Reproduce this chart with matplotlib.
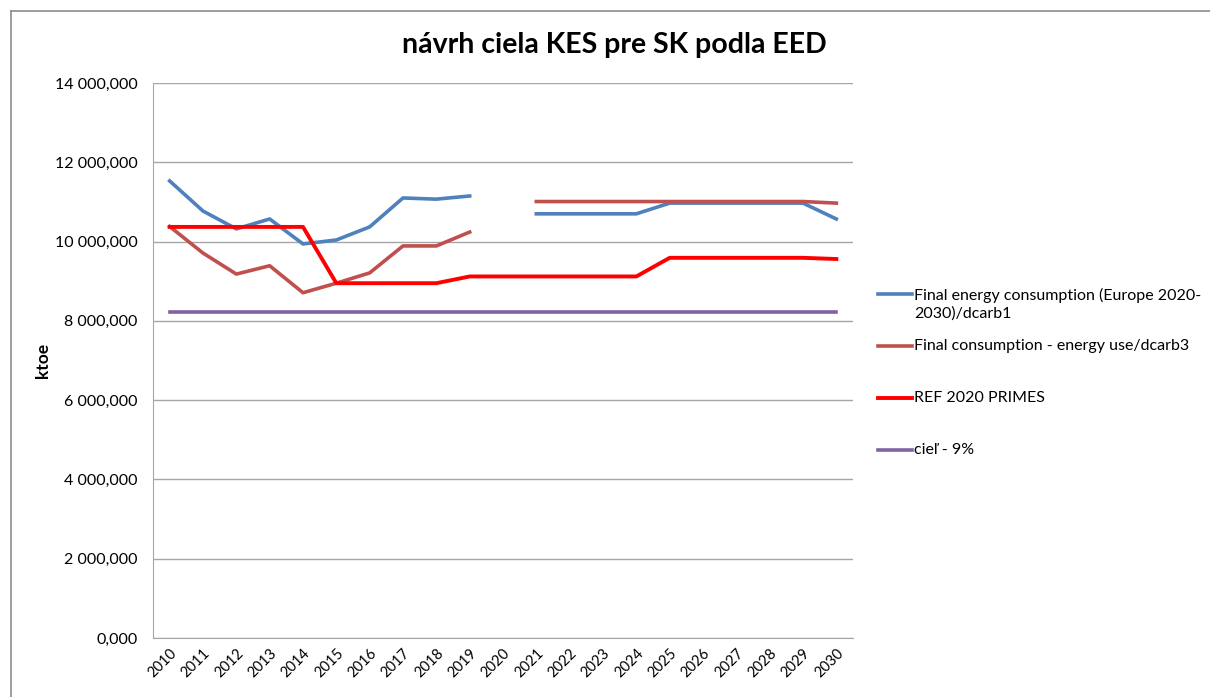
import numpy as np
import matplotlib
matplotlib.use("Agg")
import matplotlib.pyplot as plt
from matplotlib.lines import Line2D
from matplotlib.ticker import FuncFormatter

plt.rcParams['font.family'] = ['Lato', 'DejaVu Sans']

years = [str(y) for y in range(2010, 2031)]
nan = np.nan
blue_fec = [11530, 10770, 10320, 10570, 9940, 10040, 10370, 11100, 11070, 11150,
            nan, 10700, 10700, 10700, 10700, 10970, 10970, 10970, 10970, 10970, 10570]
dcarb3 = [10380, 9710, 9180, 9390, 8710, 8950, 9210, 9890, 9890, 10240,
          nan, 11010, 11010, 11010, 11010, 11010, 11010, 11010, 11010, 11010, 10970]
ref2020 = [10370, 10370, 10370, 10370, 10370, 8950, 8950, 8950, 8950, 9120,
           9120, 9120, 9120, 9120, 9120, 9590, 9590, 9590, 9590, 9590, 9560]
ciel = [8220] * 21

labels = ["Final energy consumption (Europe 2020-\n2030)/dcarb1",
          "Final consumption - energy use/dcarb3",
          "REF 2020 PRIMES",
          "cieľ - 9%"]
colors = ["#4F81BD", "#C0504D", "#FF0000", "#8064A2"]
widths = [2.6, 2.6, 2.8, 2.6]
yticks = [0, 2000, 4000, 6000, 8000, 10000, 12000, 14000]

W, H = 1210, 697
fig = plt.figure(figsize=(W / 100, H / 100), dpi=100)
ax = fig.add_axes([153/W, 1 - 638/H, 700/W, 555/H])

x = np.arange(len(years))
series = [blue_fec, dcarb3, ref2020, ciel]
for s, c, w, lab in zip(series, colors, widths, labels):
    ax.plot(x, s, color=c, lw=w, solid_joinstyle='round', label=lab)

ax.set_xlim(-0.5, len(years) - 0.5)
ax.set_ylim(0, 14000)
ax.set_yticks(yticks)
ax.yaxis.set_major_formatter(FuncFormatter(lambda v, p: f"{int(v):,}".replace(",", " ") + ",000"))
ax.set_xticks(x)
ax.set_xticklabels(years, rotation=45, ha='right', rotation_mode='anchor', fontsize=10.5)
ax.tick_params(axis='y', length=0, labelsize=11.5, pad=11)
ax.tick_params(axis='x', length=0, pad=6)
ax.grid(axis='y', color='#A6A6A6', lw=1)
ax.set_axisbelow(True)
for sp in ['top', 'right']:
    ax.spines[sp].set_visible(False)
ax.spines['left'].set_color('#A6A6A6')
ax.spines['bottom'].set_color('#A6A6A6')
ax.set_ylabel("ktoe", fontweight='bold', fontsize=12.5)
ax.yaxis.set_label_coords(-(153 - 51) / 700, 0.5)

fig.text(614 / W, 1 - 45 / H, "návrh ciela KES pre SK podla EED",
         ha='center', va='center', fontsize=20.5, fontweight='bold')

# legend (Excel style: handle aligned with first text line)
leg_rows = [294, 346, 398, 450]
for lab, c, w, yr in zip(labels, colors, widths, leg_rows):
    fig.add_artist(Line2D([878 / W, 912 / W], [1 - yr / H, 1 - yr / H], color=c, lw=w))
    nlines = lab.count("\n") + 1
    ycen = yr + (nlines - 1) * 21 / 2
    fig.text(914 / W, 1 - ycen / H, lab, ha='left', va='center', fontsize=11.5,
             linespacing=1.3)

# outer chart border (left and top visible)
fig.add_artist(Line2D([11/W, 11/W], [0, 1 - 11/H], color='#8C8C8C', lw=1.2))
fig.add_artist(Line2D([11/W, 1], [1 - 11/H, 1 - 11/H], color='#8C8C8C', lw=1.2))

fig.savefig("out.png", dpi=100)
